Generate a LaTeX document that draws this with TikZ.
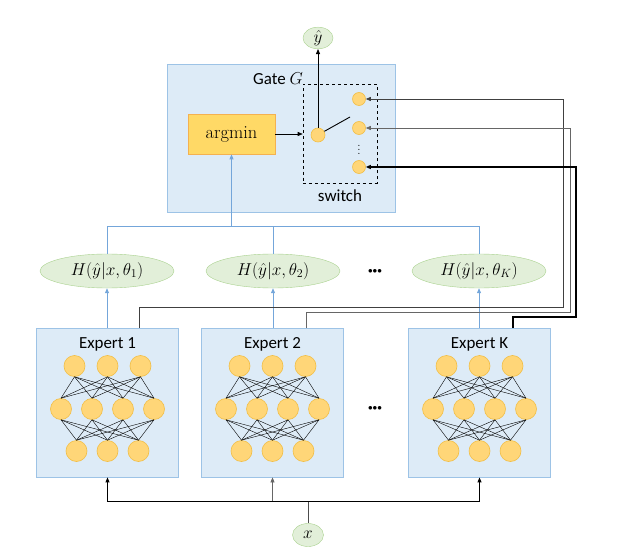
\documentclass[tikz,border=0pt]{standalone}
\usepackage{fontspec}
\setsansfont{Carlito}
\usetikzlibrary{arrows.meta,shapes.geometric}
\definecolor{boxblue}{RGB}{221,235,247}
\definecolor{boxline}{RGB}{157,195,230}
\definecolor{neuron}{RGB}{255,214,120}
\definecolor{neuronline}{RGB}{242,190,70}
\definecolor{argfill}{RGB}{255,217,102}
\definecolor{argline}{RGB}{244,177,80}
\definecolor{hfill}{RGB}{226,239,217}
\definecolor{hline}{RGB}{169,209,142}
\definecolor{feed}{RGB}{116,166,218}
\begin{document}
\begin{tikzpicture}[
    x=1bp, y=-1bp,
    >={Triangle[length=5bp,width=4bp]},
    every node/.style={font=\fontsize{18.5}{21}\selectfont},
    lbl/.style={font=\sffamily\fontsize{17}{20}\selectfont},
    smalldots/.style={inner sep=0, font=\fontsize{12}{13}\selectfont},
    bigdots/.style={inner sep=0, font=\fontsize{9}{10}\selectfont},
    panel/.style={draw=boxline, fill=boxblue, line width=0.8bp, inner sep=0},
    cell/.style={circle, draw=neuronline, fill=neuron, line width=0.6bp, minimum size=21bp, inner sep=0},
    pick/.style={circle, draw=neuronline, fill=neuron, line width=0.6bp, minimum size=13bp, inner sep=0},
    loss/.style={ellipse, draw=hline, fill=hfill, minimum width=134bp, minimum height=34bp, inner sep=0},
    io/.style={ellipse, draw=hline, fill=hfill, inner sep=0},
    synapse/.style={line width=0.4bp},
    feedline/.style={draw=feed, line width=0.8bp}
]
    \useasboundingbox (0,0) rectangle (618,554);

    \node[panel, minimum width=228bp, minimum height=148bp] (gate) at (281,138) {};
    \node[lbl] (gatelabel) at (278,79) {Gate $G$};
    \node[draw=argline, fill=argfill, line width=0.8bp, minimum width=87bp, minimum height=40bp, inner sep=0] (argmin) at (231.5,134) {argmin};
    \node[draw, dashed, line width=0.6bp, minimum width=74bp, minimum height=99bp, inner sep=0] (switch) at (340,133.5) {};
    \node[lbl] (switchlabel) at (340,196) {switch};
    \node[pick, minimum size=14bp] (s0) at (318,135) {};
    \node[pick] (s1) at (359,99) {};
    \node[pick] (s2) at (359,128) {};
    \node[pick] (sK) at (359,167) {};
    \node[smalldots] (sdots) at (359,147) {$\vdots$};
    \coordinate (lever) at (350,117);
    \draw[line width=0.9bp] (s0.30) -- (lever);
    \node[io, minimum width=30bp, minimum height=18bp] (yhat) at (318,38) {$\hat{y}$};
    \draw[->, line width=0.8bp] (s0.north) -- (yhat.south);
    \draw[->, line width=0.6bp] (argmin.east) -- (argmin.east -| switch.west);

    \foreach \e/\cx/\name in {1/107.5/Expert 1, 2/272.5/Expert 2, K/479.5/Expert K} {
        \node[panel, minimum width=142bp, minimum height=149bp] (e\e) at (\cx,402.5) {};
        \node[lbl] (e\e-title) at (\cx,344) {\name};
        \foreach \i/\dx in {1/-33,2/0,3/33}
            \node[cell] (e\e-a\i) at ({\cx+(\dx)},366) {};
        \foreach \j/\dx in {1/-46.5,2/-15.5,3/15.5,4/46.5}
            \node[cell] (e\e-b\j) at ({\cx+(\dx)},409) {};
        \foreach \k/\dx in {1/-31,2/0,3/31}
            \node[cell] (e\e-c\k) at ({\cx+(\dx)},451) {};
        \foreach \j in {1,...,4} {
            \foreach \i in {1,2,3}
                \draw[synapse] (e\e-a\i.south) -- (e\e-b\j.north);
            \foreach \k in {1,2,3}
                \draw[synapse] (e\e-b\j.south) -- (e\e-c\k.north);
        }
    }
    \node[bigdots] (edots) at (375,408) {${\bullet}{\bullet}{\bullet}$};

    \node[loss] (h1) at (107,271) {$H(\hat{y}|x,\theta_1)$};
    \node[loss] (h2) at (273,271) {$H(\hat{y}|x,\theta_2)$};
    \node[loss] (hK) at (479,271) {$H(\hat{y}|x,\theta_K)$};
    \node[bigdots] (hdots) at (375,271) {${\bullet}{\bullet}{\bullet}$};

    \draw[feedline, ->] (h1.south |- e1.north) -- (h1.south);
    \draw[feedline, ->] (h2.south |- e2.north) -- (h2.south);
    \draw[feedline, ->] (hK.south |- eK.north) -- (hK.south);
    \coordinate (bus) at (0,226);
    \draw[feedline] (h1.north) |- (hK.north |- bus) -- (hK.north);
    \draw[feedline] (h2.north) -- (h2.north |- bus);
    \draw[feedline, ->] (argmin.south |- bus) -- (argmin.south);

    \draw[->, draw=black!75, line width=0.7bp] ([xshift=31.5bp]e1.north) |- (563,307) |- (s1.east);
    \draw[->, draw=black!60, line width=0.7bp] ([xshift=33.5bp]e2.north) |- (570,312) |- (s2.east);
    \draw[->, line width=1.1bp] ([xshift=33.5bp]eK.north) |- (576,317) |- (sK.east);

    \node[io, minimum width=31bp, minimum height=23bp] (xin) at (308,535) {$x$};
    \coordinate (split) at (308,501);
    \draw[draw=black!70, line width=0.7bp] (xin.north) -- (split);
    \draw[->, line width=0.9bp] (split) -| (e1.south);
    \draw[->, line width=0.9bp] (split) -| (eK.south);
    \draw[->, draw=black!60, line width=0.6bp] (e2.south |- split) -- (e2.south);
\end{tikzpicture}
\end{document}
